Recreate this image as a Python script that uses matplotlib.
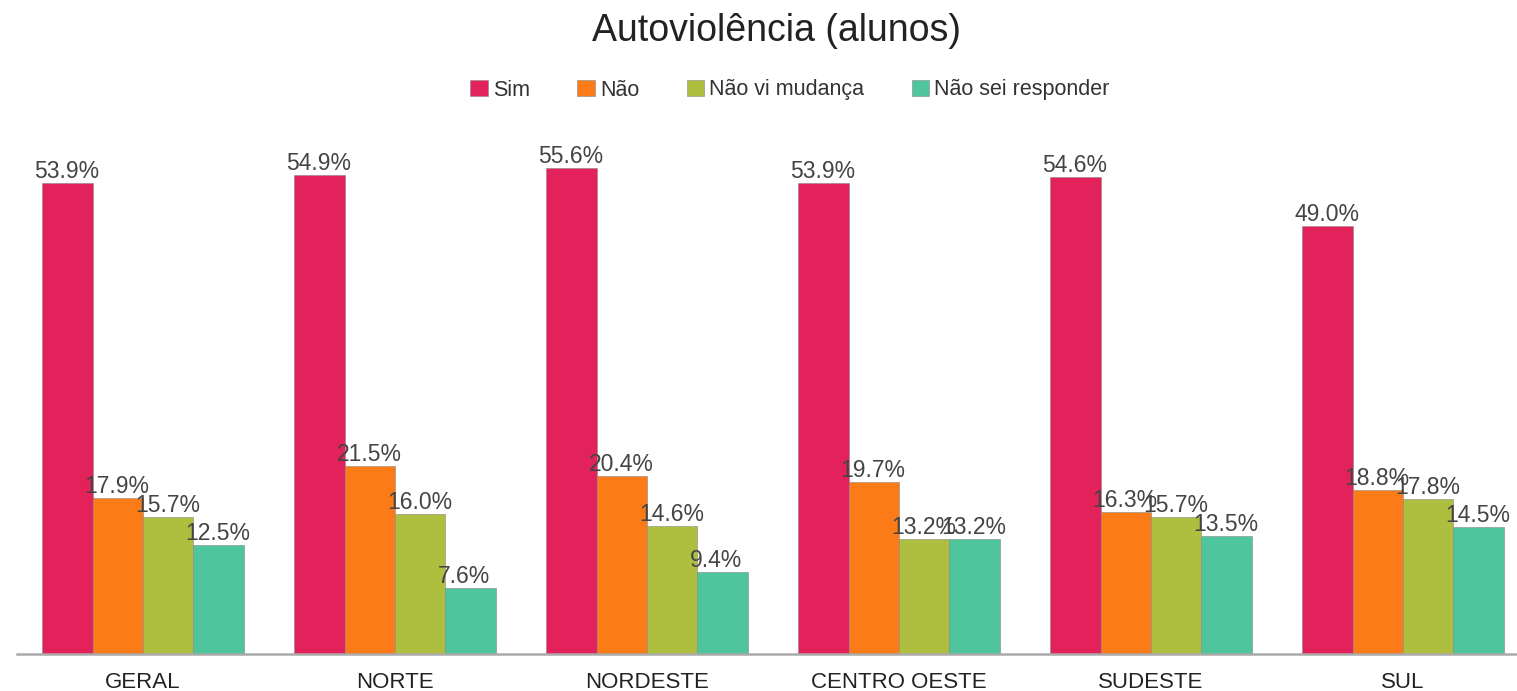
import matplotlib.pyplot as plt
import numpy as np

plt.rcParams['font.family'] = ['Liberation Sans', 'DejaVu Sans']

regioes = ['GERAL', 'NORTE', 'NORDESTE', 'CENTRO OESTE', 'SUDESTE', 'SUL']
series = ['Sim', 'Não', 'Não vi mudança', 'Não sei responder']
sim = [53.9, 54.9, 55.6, 53.9, 54.6, 49.0]
nao = [17.9, 21.5, 20.4, 19.7, 16.3, 18.8]
nao_vi = [15.7, 16.0, 14.6, 13.2, 15.7, 17.8]
nao_sei = [12.5, 7.6, 9.4, 13.2, 13.5, 14.5]
cores = ['#e3215b', '#fa7b17', '#aebf3f', '#4ec59c']

W, H = 1517, 691
fig = plt.figure(figsize=(W / 100, H / 100), dpi=100)
ax = fig.add_axes([17 / W, 37 / H, 1512 / W, 524 / H])

x = np.arange(len(regioes))
w = 0.2
for i, (vals, cor) in enumerate(zip([sim, nao, nao_vi, nao_sei], cores)):
    pos = x + (i - 1.5) * w
    bars = ax.bar(pos, vals, w, color=cor, edgecolor='#888888', linewidth=0.4, label=series[i])
    for b, v in zip(bars, vals):
        # rótulo começa um pouco antes da borda esquerda da barra
        ax.annotate(f'{v:.1f}%', (b.get_x(), v), xytext=(-8, 0), textcoords='offset pixels',
                    ha='left', va='bottom', fontsize=16.5, color='#444444')

ax.set_xlim(-0.5, 5.5)
ax.set_ylim(0, 60)
ax.set_yticks([])
ax.set_xticks(x)
ax.set_xticklabels(regioes, fontsize=16, color='#222222')
ax.tick_params(axis='x', length=0, pad=13)
for s in ['top', 'left', 'right']:
    ax.spines[s].set_visible(False)
ax.spines['bottom'].set_color('#aaaaaa')
ax.spines['bottom'].set_linewidth(1.8)

fig.text(776 / W, 1 - 31 / H, 'Autoviolência (alunos)', ha='center', va='center',
         fontsize=27, color='#222222')
fig.legend(loc='center', bbox_to_anchor=(790 / W, 1 - 90 / H), ncol=4, frameon=False,
           fontsize=15.5, handlelength=0.8, handleheight=0.8, handletextpad=0.25,
           columnspacing=2.2, labelcolor='#333333')

fig.savefig('out.png', dpi=100)
